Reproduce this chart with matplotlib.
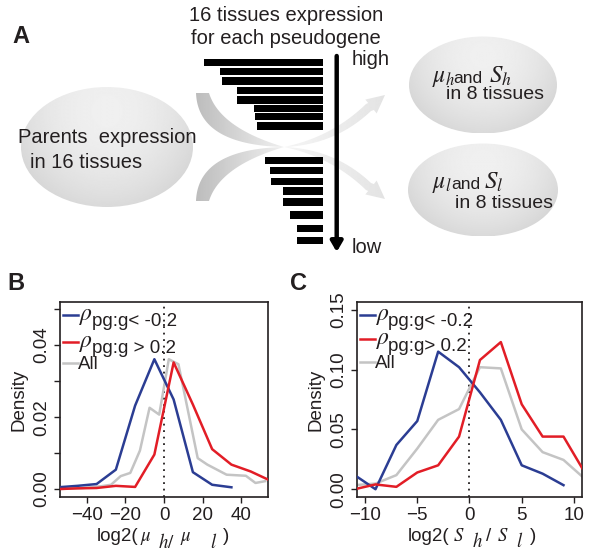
import numpy as np
import matplotlib

matplotlib.use("Agg")
import matplotlib.pyplot as plt
from matplotlib.patches import Ellipse, Polygon

plt.rcParams["font.family"] = ["Liberation Sans", "DejaVu Sans"]
plt.rcParams["mathtext.fontset"] = "stix"

# ---- panel B data: density of log2(mu_h / mu_l)
b_blue_x = [-55, -45, -35, -25, -15, -5, 5, 15, 25, 35]
b_blue_y = [0.0005, 0.0009, 0.0014, 0.0054, 0.0232, 0.0361, 0.0249, 0.0047, 0.0012, 0.0005]
b_red_x = [-55, -45, -35, -25, -15, -5, 5, 15, 25, 35, 45, 55]
b_red_y = [0.0000, 0.0002, 0.0003, 0.0009, 0.0006, 0.0096, 0.0352, 0.0235, 0.0111, 0.0068, 0.0049, 0.0024]
b_all_x = [-55, -42.5, -32.5, -27.5, -22.5, -17.5, -12.5, -7.5, -2.5, 2.5, 7.5, 17.5, 22.5, 32.5, 42.5, 47.5, 52.5]
b_all_y = [0.0000, 0.0003, 0.0008, 0.0012, 0.0036, 0.0045, 0.0107, 0.0226, 0.0207, 0.0361, 0.0347,
           0.0086, 0.0068, 0.0040, 0.0037, 0.0017, 0.0022]

# ---- panel C data: density of log2(S_h / S_l)
c_x = [-11, -9, -7, -5, -3, -1, 1, 3, 5, 7, 9, 11]
c_blue_y = [0.0118, 0.0, 0.037, 0.057, 0.115, 0.102, 0.081, 0.058, 0.020, 0.013, 0.0034]
c_red_y = [0.000, 0.004, 0.002, 0.014, 0.020, 0.044, 0.108, 0.123, 0.071, 0.044, 0.044, 0.0145]
c_all_y = [0.0034, 0.0047, 0.0118, 0.034, 0.058, 0.067, 0.102, 0.101, 0.050, 0.031, 0.0245, 0.009]

legend_labels = ["pg:g< -0.2", "pg:g > 0.2", "All"]
legend_labels_c = ["pg:g< -0.2", "pg:g> 0.2", "All"]

# ---- panel A schematic: bar lengths (expression) for 16 tissues
high_len = [119, 102.5, 101, 86, 86, 69, 67.5, 66]
high_y = [62.5, 71.3, 81, 90.7, 100, 108.3, 116.7, 126]
low_len = [58, 53, 52, 40, 40, 33, 26, 26]
low_y = [160.5, 170.5, 181.5, 190.8, 202, 215, 228.7, 240.7]

BLUE = "#2b3d93"
RED = "#e21d26"
GRAY = "#c4c4c4"
TXT = "#231f20"

fig = plt.figure(figsize=(5.94, 5.59), dpi=100)

# ------------------------------------------------------------ panel A (pixel coordinates)
axA = fig.add_axes([0, 0, 1, 1])
axA.set_xlim(0, 594)
axA.set_ylim(559, 0)
axA.axis("off")


def shaded_ellipse(ax, cx, cy, w, h):
    patch = Ellipse((cx, cy), w, h, facecolor="none", edgecolor="none")
    ax.add_patch(patch)
    X, Y = np.meshgrid(np.linspace(cx - w / 2, cx + w / 2, 200), np.linspace(cy - h / 2, cy + h / 2, 150))
    r = np.sqrt(((X - cx) / (w / 2)) ** 2 + ((Y - (cy - 0.3 * h)) / (0.75 * h)) ** 2)
    val = 0.94 - 0.075 * np.clip(r, 0, 1.3) ** 2
    im = ax.imshow(val, cmap="gray", vmin=0, vmax=1, aspect="auto", interpolation="bilinear",
                   extent=(cx - w / 2, cx + w / 2, cy + h / 2, cy - h / 2), zorder=1)
    im.set_clip_path(patch)


def quad(p0, c, p1, n=40):
    t = np.linspace(0, 1, n)[:, None]
    p0, c, p1 = map(np.asarray, (p0, c, p1))
    return (1 - t) ** 2 * p0 + 2 * (1 - t) * t * c + t ** 2 * p1


def gradient_fill(ax, verts, x0, x1, v0, v1):
    patch = Polygon(verts, closed=True, facecolor="none", edgecolor="none")
    ax.add_patch(patch)
    xs = np.linspace(0, 1, 100)
    img = np.tile(v0 + (v1 - v0) * xs, (2, 1))
    ys = verts[:, 1]
    im = ax.imshow(img, cmap="gray", vmin=0, vmax=1, aspect="auto", interpolation="bilinear",
                   extent=(x0, x1, ys.max() + 1, ys.min() - 1), zorder=1.5)
    im.set_clip_path(patch)


def curved_arrow(ax, sign):
    def m(pts):
        pts = np.asarray(pts, dtype=float)
        if sign < 0:
            pts = pts.copy()
            pts[:, 1] = 294 - pts[:, 1]
        return pts

    # left tapered band
    outer = quad((196, 93), (198, 145), (284, 147))
    inner = quad((209, 93), (220, 128), (284, 147))
    band = m(np.vstack([outer, inner[::-1]]))
    gradient_fill(ax, band, 196, 284, 0.74, 0.94)
    # right band with arrow head
    lower = quad((284, 147), (335, 145), (371, 111))
    upper = quad((284, 147), (332, 137), (366, 104))
    tip = np.array([385.0, 95.0])
    nrm = np.array([0.63, 0.77])
    base = np.array([371.0, 106.5])
    head = [base + 9 * nrm, tip, base - 9 * nrm]
    right = m(np.vstack([lower, [base + 4.5 * nrm], head, [base - 4.5 * nrm], upper[::-1]]))
    gradient_fill(ax, right, 284, 388, 0.96, 0.89)


shaded_ellipse(axA, 107, 147, 172, 120)
shaded_ellipse(axA, 483, 85, 148, 97)
shaded_ellipse(axA, 483, 190, 150, 93)
curved_arrow(axA, 1)
curved_arrow(axA, -1)

right_edge = 322.5
axA.barh(high_y, high_len, left=[right_edge - v for v in high_len], height=7.4, color="black", zorder=3)
axA.barh(low_y, low_len, left=[right_edge - v for v in low_len], height=7.4, color="black", zorder=3)

axA.annotate("", xy=(336.7, 252), xytext=(336.7, 56),
             arrowprops=dict(arrowstyle="-|>,head_length=0.6,head_width=0.35", lw=3.2, color="black",
                             shrinkA=0, shrinkB=0), zorder=4)
axA.text(352, 65, "high", fontsize=14.5, color=TXT, va="baseline")
axA.text(352, 253, "low", fontsize=14.5, color=TXT, va="baseline")

axA.text(286, 21, "16 tissues expression", fontsize=14.5, color=TXT, ha="center", va="baseline")
axA.text(286, 44, "for each pseudogene", fontsize=14.5, color=TXT, ha="center", va="baseline")
axA.text(12, 43, "A", fontsize=17, fontweight="bold", color=TXT, va="baseline")

axA.text(18, 143, "Parents  expression", fontsize=14.5, color=TXT, va="baseline", zorder=5)
axA.text(30, 168, "in 16 tissues", fontsize=14.5, color=TXT, va="baseline", zorder=5)

for base_y, sub, xs in [(82, "h", (432, 453, 489)), (188, "l", (432, 451, 484))]:
    axA.text(xs[0], base_y, r"$\mu_{%s}$" % sub, fontsize=17, color=TXT, va="baseline", zorder=5)
    axA.text(xs[1], base_y + 1, "and", fontsize=12.5, color=TXT, va="baseline", zorder=5)
    axA.text(xs[2], base_y + 1, r"$S_{%s}$" % sub, fontsize=18, color=TXT, va="baseline", zorder=5)
axA.text(495, 99, "in 8 tissues", fontsize=14, color=TXT, ha="center", va="baseline", zorder=5)
axA.text(504, 208.5, "in 8 tissues", fontsize=14, color=TXT, ha="center", va="baseline", zorder=5)

axA.text(7, 290, "B", fontsize=17, fontweight="bold", color=TXT, va="baseline")
axA.text(290, 290, "C", fontsize=17, fontweight="bold", color=TXT, va="baseline")

# x-axis titles built piece by piece (large lowered subscripts as in the original)
for x, y, s in [(97, 541, "log2("), (140, 541, r"$\mu$"), (158, 548, r"$\mathit{h/}$"),
                (180, 541, r"$\mu$"), (210, 548, r"$\mathit{l}$"), (223, 541, ")")]:
    axA.text(x, y, s, fontsize=13.5, color=TXT, va="baseline")
for x, y, s in [(408, 541, "log2("), (453, 541, r"$S$"), (472, 547, r"$h$"), (486, 541, "/"),
                (497, 541, r"$S$"), (516, 547, r"$l$"), (530, 541, ")")]:
    axA.text(x, y, s, fontsize=13.5, color=TXT, va="baseline")


# ------------------------------------------------------------ panels B and C
def style_axes(ax):
    for s in ax.spines.values():
        s.set_linewidth(1.2)
        s.set_color(TXT)
    ax.tick_params(direction="out", length=4, width=1, labelsize=13.5, colors=TXT, pad=3)
    ax.set_ylabel("Density", fontsize=13.5, color=TXT, labelpad=4)


def draw_legend(ax, labels, rows, x_line, x_rho, x_txt):
    for (lab, col, y) in zip(labels, [BLUE, RED, GRAY], rows):
        ax.plot(x_line, [y, y], color=col, lw=1.8, transform=ax.transAxes, clip_on=False)
        if lab == "All":
            ax.text(x_rho - 0.006, y - 0.032, lab, fontsize=13.5, color=TXT, va="baseline",
                    transform=ax.transAxes)
        else:
            ax.text(x_rho, y - 0.005, r"$\rho$", fontsize=17, color=TXT, va="center", transform=ax.transAxes)
            ax.text(x_txt, y - 0.058, lab, fontsize=13.5, color=TXT, va="baseline", transform=ax.transAxes)


axB = fig.add_axes([60 / 594, 1 - 497 / 559, 208 / 594, 195 / 559])
style_axes(axB)
axB.plot(b_blue_x, b_blue_y, color=BLUE, lw=1.8, zorder=3)
axB.plot(b_all_x, b_all_y, color=GRAY, lw=1.8, zorder=2)
axB.plot(b_red_x, b_red_y, color=RED, lw=1.8, zorder=3)
axB.axvline(0, color=TXT, lw=1.3, linestyle=(0, (1, 2.6)), zorder=1)
axB.set_xlim(-54, 54)
axB.set_ylim(-0.0022, 0.052)
axB.set_xticks([-40, -20, 0, 20, 40])
axB.set_xticklabels(["\u221240", "\u221220", "0", "20", "40"])
axB.set_yticks([0, 0.01, 0.02, 0.03, 0.04, 0.05])
axB.set_yticklabels(["0.00", "", "0.02", "", "0.04", ""], rotation=90, va="center")
draw_legend(axB, legend_labels, [0.933, 0.796, 0.686], [0.014, 0.087], 0.09, 0.155)

axC = fig.add_axes([356.7 / 594, 1 - 497 / 559, 225.6 / 594, 195 / 559])
style_axes(axC)
axC.plot(c_x[:len(c_blue_y)], c_blue_y, color=BLUE, lw=1.8, zorder=3)
axC.plot(c_x, c_all_y, color=GRAY, lw=1.8, zorder=2)
axC.plot(c_x, c_red_y, color=RED, lw=1.8, zorder=3)
axC.axvline(0, color=TXT, lw=1.3, linestyle=(0, (1, 2.6)), zorder=1)
axC.set_xlim(-10.8, 10.8)
axC.set_ylim(-0.0065, 0.1565)
axC.set_xticks([-10, -5, 0, 5, 10])
axC.set_xticklabels(["\u221210", "\u22125", "0", "5", "10"])
axC.set_yticks([0, 0.05, 0.10, 0.15])
axC.set_yticklabels(["0.00", "0.05", "0.10", "0.15"], rotation=90, va="center")
draw_legend(axC, legend_labels_c, [0.935, 0.808, 0.694], [0.015, 0.081], 0.086, 0.14)

fig.savefig("out.png", dpi=100)
